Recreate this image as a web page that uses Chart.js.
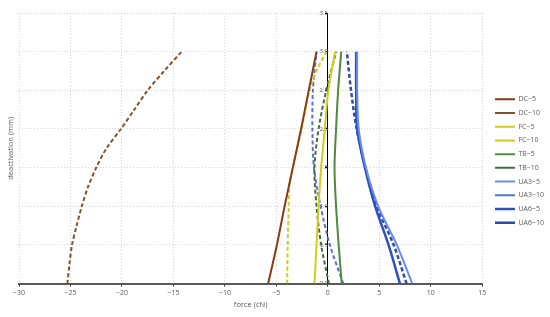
<!DOCTYPE html>
<html>
<head>
<meta charset="utf-8">
<script src="https://cdn.jsdelivr.net/npm/chart.js@4.4.1/dist/chart.umd.min.js"></script>
<style>
  html, body { margin: 0; padding: 0; background: #fff; }
  #wrap { width: 550px; height: 317px; }
</style>
</head>
<body>
<div id="wrap"><canvas id="chart"></canvas></div>
<script>
// deactivation (mm) levels the curves were read at
const deact = [0, 0.5, 1.0, 1.5, 2.0, 2.5, 3.0];
const deactFine = [0, 0.25, 0.5, 0.75, 1.0, 1.25, 1.5, 1.75, 2.0, 2.25, 2.5, 2.75, 3.0];
const deactFc10 = [0, 0.5, 1.0, 1.25, 1.5, 2.0, 2.5, 2.75, 3.0];

// force (cN) per series
const dc5 = [-5.8, -4.95, -4.2, -3.4, -2.6, -1.85, -1.1];
const dc10 = [-25.3, -25.1, -24.85, -24.4, -23.9, -23.3, -22.5, -21.5, -20.1, -18.8, -17.5, -15.9, -14.2];
const fc5 = [-1.3, -1.1, -0.9, -0.65, -0.3, 0.05, 0.7];
const fc10 = [-3.95, -3.9, -3.8, -3.75, -3.4, -2.55, -1.8, -1.1, -0.15];
const tb5 = [1.35, 1.05, 0.8, 0.65, 0.8, 1.0, 1.3];
const tb10 = [0.1, -0.65, -1.1, -1.3, -0.9, -0.15, 0.8];
const ua3_5 = [8.2, 6.7, 4.9, 3.7, 3.0, 2.85, 2.85];
const ua3_10 = [1.5, 0.2, -0.7, -1.35, -1.5, -1.45, -1.1];
const ua6_5 = [7.0, 5.9, 4.6, 3.6, 2.85, 2.75, 2.75];
const ua6_10 = [7.65, 6.4, 4.75, 3.65, 2.8, 2.25, 1.85];

const xTicks = [-30, -25, -20, -15, -10, -5, 0, 5, 10, 15];
const yTicks = [0, 0.5, 1.0, 1.5, 2.0, 2.5, 3.0, 3.5];

const font = "'Open Sans', 'Liberation Sans', sans-serif";
const dash = [4, 2.5];

function pts(forces, levels) {
    return forces.map((f, i) => ({ x: f, y: levels[i] }));
}

function series(label, forces, levels, color, dashed, width) {
    return {
        label: label,
        data: pts(forces, levels),
        borderColor: color,
        backgroundColor: color,
        borderWidth: width || 2,
        borderDash: dashed ? dash : [],
        pointRadius: 0,
        tension: 0.3,
        fill: false
    };
}

const datasets = [
    series('DC\u22125', dc5, deact, '#8b3a12', false),
    series('DC\u221210', dc10, deactFine, '#85502a', true),
    series('FC\u22125', fc5, deact, '#d2cc1c', false),
    series('FC\u221210', fc10, deactFc10, '#cccc22', true),
    series('TB\u22125', tb5, deact, '#4e8a3e', false),
    series('TB\u221210', tb10, deact, '#3f6e3f', true),
    series('UA3\u22125', ua3_5, deact, '#6a8cf0', false),
    series('UA3\u221210', ua3_10, deact, '#5a6fe0', true),
    series('UA6\u22125', ua6_5, deact, '#2e4fbf', false, 2.5),
    series('UA6\u221210', ua6_10, deact, '#2f4aaa', true, 2.5)
];

const gridColor = 'rgba(0,0,0,0.16)';
const tickColor = '#595959';

new Chart(document.getElementById('chart').getContext('2d'), {
    type: 'line',
    data: { datasets: datasets },
    options: {
        responsive: true,
        maintainAspectRatio: false,
        animation: false,
        layout: { padding: { top: 13, right: 2, bottom: 8, left: 2 } },
        plugins: {
            legend: {
                position: 'right',
                labels: {
                    usePointStyle: true,
                    pointStyle: 'line',
                    pointStyleWidth: 20,
                    color: tickColor,
                    padding: 6.7,
                    font: { family: font, size: 7 }
                }
            },
            tooltip: { enabled: false }
        },
        scales: {
            x: {
                type: 'linear',
                position: 'bottom',
                min: -30,
                max: 15,
                afterBuildTicks: s => { s.ticks = xTicks.map(v => ({ value: v })); },
                ticks: {
                    color: tickColor,
                    font: { family: font, size: 7 },
                    padding: 2,
                    callback: v => v < 0 ? '\u2212' + Math.abs(v) : String(v)
                },
                grid: {
                    color: gridColor,
                    tickColor: '#333',
                    tickLength: 3
                },
                border: { display: true, color: '#595959', width: 2, dash: [1, 2] },
                title: {
                    display: true,
                    text: 'force (cN)',
                    color: tickColor,
                    font: { family: font, size: 7.5 },
                    padding: { top: 1, bottom: 0 }
                }
            },
            y: {
                type: 'linear',
                position: { x: 0 },
                min: 0,
                max: 3.5,
                afterBuildTicks: s => { s.ticks = yTicks.map(v => ({ value: v })); },
                ticks: {
                    color: tickColor,
                    font: { family: font, size: 6 },
                    padding: 2,
                    callback: v => Number(v).toFixed(1)
                },
                grid: {
                    color: gridColor,
                    tickLength: 2,
                    tickColor: '#000'
                },
                border: { display: true, color: '#000', width: 1, dash: [1, 2] }
            },
            ytitle: {
                type: 'linear',
                position: 'left',
                display: true,
                ticks: { display: false },
                grid: { display: false, drawTicks: false },
                border: { display: false },
                title: {
                    display: true,
                    text: 'deactivation (mm)',
                    color: tickColor,
                    font: { family: font, size: 7.5 },
                    padding: { top: 4, bottom: 4 }
                }
            }
        }
    },
    plugins: [{
        // leave a little more room between the plot and the legend
        id: 'legendGap',
        afterLayout: chart => {
            const lg = chart.legend;
            if (lg) { lg.left += 6; lg.right += 6; }
        }
    }]
});
</script>
</body>
</html>
